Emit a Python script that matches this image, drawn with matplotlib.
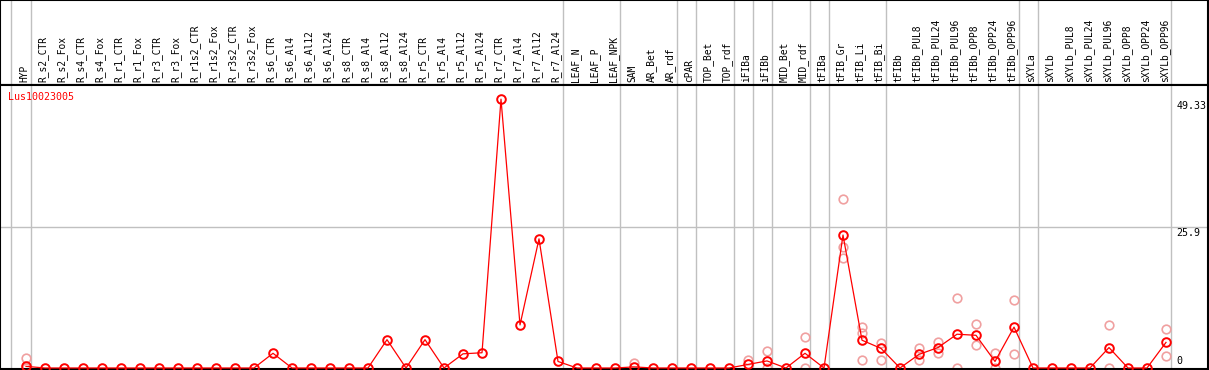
import matplotlib
matplotlib.use("Agg")
import matplotlib.pyplot as plt

# ────────────────────────────────────────────────────────────────────────────────
# DATA
# ────────────────────────────────────────────────────────────────────────────────
GENE = "Lus10023005"

samples = [
    "HYP", "R_s2_CTR", "R_s2_Fox", "R_s4_CTR", "R_s4_Fox", "R_r1_CTR", "R_r1_Fox",
    "R_r3_CTR", "R_r3_Fox", "R_r1s2_CTR", "R_r1s2_Fox", "R_r3s2_CTR", "R_r3s2_Fox",
    "R_s6_CTR", "R_s6_Al4", "R_s6_Al12", "R_s6_Al24", "R_s8_CTR", "R_s8_Al4",
    "R_s8_Al12", "R_s8_Al24", "R_r5_CTR", "R_r5_Al4", "R_r5_Al12", "R_r5_Al24",
    "R_r7_CTR", "R_r7_Al4", "R_r7_Al12", "R_r7_Al24", "LEAF_N", "LEAF_P", "LEAF_NPK",
    "SAM", "AR_Bet", "AR_rdf", "cPAR", "TOP_Bet", "TOP_rdf", "iFIBa", "iFIBb",
    "MID_Bet", "MID_rdf", "tFIBa", "tFIB_Gr", "tFIB_Li", "tFIB_Bi", "tFIBb",
    "tFIBb_PUL8", "tFIBb_PUL24", "tFIBb_PUL96", "tFIBb_OPP8", "tFIBb_OPP24",
    "tFIBb_OPP96", "sXYLa", "sXYLb", "sXYLb_PUL8", "sXYLb_PUL24", "sXYLb_PUL96",
    "sXYLb_OPP8", "sXYLb_OPP24", "sXYLb_OPP96",
]

means = [
    0.3, 0, 0, 0, 0, 0, 0,
    0, 0, 0, 0, 0, 0,
    2.7, 0, 0, 0, 0, 0,
    5.2, 0, 5.2, 0, 2.6, 2.8,
    49.33, 7.9, 23.7, 1.2, 0, 0, 0,
    0.2, 0, 0, 0, 0, 0, 0.65, 1.3,
    0, 2.7, 0, 24.4, 5.1, 3.6, 0,
    2.5, 3.75, 6.2, 6.0, 1.2,
    7.5, 0, 0, 0, 0, 3.75,
    0, 0, 4.7,
]

# individual replicates (only the ones that show up apart from the mean)
rep_idx = [0, 0, 32, 38, 39, 39, 41, 41,
           43, 43, 43, 44, 44, 44, 45, 45,
           47, 47, 48, 48, 49, 49, 50, 50, 51, 51, 52, 52,
           57, 57, 60, 60]
rep_val = [1.8, 0, 1.0, 1.5, 3.1, 0, 5.6, 0,
           31.1, 22.2, 20.1, 7.6, 6.4, 1.4, 4.6, 1.5,
           3.6, 1.4, 4.7, 2.8, 12.9, 0, 8.0, 4.2, 2.8, 0, 12.4, 2.6,
           7.8, 0, 7.1, 2.2]

# sample groups: separator drawn after these indices
group_ends = [-1, 0, 28, 31, 34, 35, 37, 38, 39, 41, 42, 45, 52, 53, 60]

y_ticks = [0, 25.9, 49.33]
y_tick_labels = ["0", "25.9", "49.33"]
# ────────────────────────────────────────────────────────────────────────────────

W, H = 1209, 370
MONO = "DejaVu Sans Mono"
GRID = "#c0c0c0"
PX_PER_UNIT = 5.45

fig = plt.figure(figsize=(W / 100, H / 100), dpi=100)
x_lo, x_hi = -26 / 19, 1182 / 19

ax_h = fig.add_axes([0, 285 / H, 1208 / W, 85 / H])
ax = fig.add_axes([0, 1 / H, 1208 / W, 284 / H], sharex=ax_h)

xs = list(range(len(samples)))

for a in (ax_h, ax):
    a.set_xlim(x_lo, x_hi)
    a.set_xticks([])
    a.set_yticks([])
    for s in a.spines.values():
        s.set_color("black")
        s.set_linewidth(1.5)
    for g in group_ends:
        gx = g + 0.25 if g >= 0 else g + 0.21
        a.axvline(gx, color=GRID, lw=1.0, zorder=0)

# header with rotated sample names
ax_h.set_ylim(0, 1)
for i, name in enumerate(samples):
    ax_h.text(i - 0.1, 0.04, name, rotation=90, ha="center", va="bottom",
              family=MONO, fontsize=6.9, color="black")

# expression panel
ax.set_ylim(-1 / PX_PER_UNIT, 283 / PX_PER_UNIT)
ax.axhline(25.9, color=GRID, lw=1.0, zorder=0)

ax.plot(rep_idx, rep_val, ls="none", marker="o", ms=6.2, mfc="none",
        mec="#f0a0a0", mew=1.2, zorder=2, clip_on=False)
ax.plot(xs, means, color="red", lw=0.9, marker="o", ms=6.2, mfc="none",
        mec="red", mew=1.4, zorder=3, clip_on=False)

ax.text(0.007, 0.975, GENE, transform=ax.transAxes, ha="left", va="top",
        family=MONO, fontsize=7.2, color="red")

for v, lab in zip(y_ticks, y_tick_labels):
    va = "bottom" if v == 0 else "top"
    ax.text(60.55, v + (0.4 if v == 0 else -0.3), lab, ha="left", va=va,
            family=MONO, fontsize=7.2, color="black")

fig.savefig("out.png", dpi=100)
